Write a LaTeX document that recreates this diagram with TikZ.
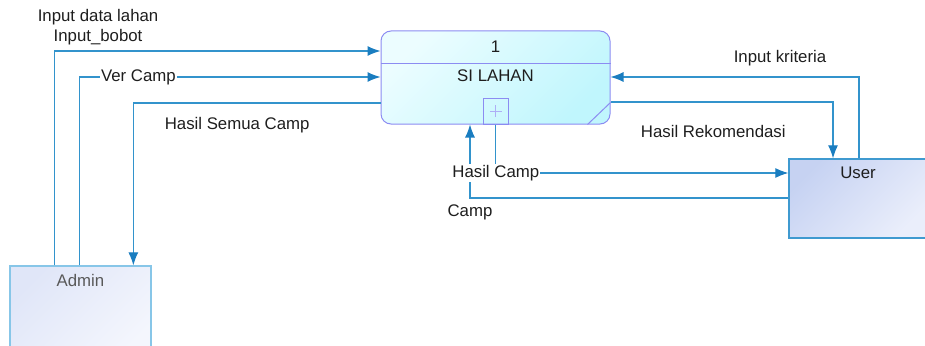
\documentclass[tikz,border=0pt]{standalone}
\usepackage{fontspec}
\setmainfont{Liberation Sans}
\usetikzlibrary{arrows.meta,positioning}

\definecolor{flowblue}{HTML}{3293CC}
\definecolor{tipblue}{HTML}{1A7DC0}
\definecolor{procline}{HTML}{8C8CF2}
\definecolor{procA}{HTML}{ECFDFF}
\definecolor{procB}{HTML}{C0F6FD}
\definecolor{adminline}{HTML}{87C6E8}
\definecolor{adminA}{HTML}{E0E6F8}
\definecolor{adminB}{HTML}{F4F6FD}
\definecolor{userline}{HTML}{3F9AD0}
\definecolor{userA}{HTML}{C6D2F2}
\definecolor{userB}{HTML}{EAEEFB}
\definecolor{txt}{HTML}{1E1E1E}

\tikzset{
  lbl/.style={font=\fontsize{16.8}{19}\selectfont, text=txt, inner sep=1pt},
  flow/.style={draw=flowblue, line width=1.1pt,
    -{Latex[length=13pt,width=10pt,color=tipblue]}},
  entity/.style={rectangle, line width=1.3pt, inner sep=0pt},
}

\begin{document}
\begin{tikzpicture}[x=1pt,y=-1pt]
\useasboundingbox (0,0) rectangle (925,345);
\clip (0,0) rectangle (925,345);

% process
\node[rectangle, rounded corners=10pt, draw=procline, line width=1pt,
      shading=axis, top color=procA, bottom color=procB, shading angle=45,
      minimum width=229pt, minimum height=93pt] (proc) at (495.5,77.5) {};
\draw[procline, line width=1pt] ([yshift=14.5pt]proc.west) -- ([yshift=14.5pt]proc.east);
\draw[procline, line width=1pt] ([xshift=-23pt]proc.south east) -- ([yshift=22pt]proc.south east);
\node[lbl] (procid) at (495.5,47) {1};
\node[lbl] (procname) at (495.5,76) {SI LAHAN};
\node[rectangle, draw=procline, line width=1pt, minimum width=25pt,
      minimum height=26pt, inner sep=0pt] (plus) at (495.8,111) {};
\draw[procline!70, line width=0.8pt] ([xshift=-6pt]plus.center) -- ([xshift=6pt]plus.center)
      ([yshift=-6pt]plus.center) -- ([yshift=6pt]plus.center);

% external entities
\node[entity, draw=adminline, shading=axis, top color=adminA, bottom color=adminB,
      shading angle=45, minimum width=141pt, minimum height=94pt,
      label={[anchor=north, yshift=-8pt, lbl, text=black!65]north:Admin}] (admin) at (80.5,313) {};
\node[entity, draw=userline, shading=axis, top color=userA, bottom color=userB,
      shading angle=45, minimum width=138pt, minimum height=79pt,
      label={[anchor=north, yshift=-7pt, lbl]north:User}] (user) at (858,198.5) {};

% flows between Admin and the process
\draw[flow] ([xshift=45pt]admin.north west) |- ([yshift=26.5pt]proc.west)
  node[lbl, pos=0.567, yshift=34pt] {Input data lahan}
  node[lbl, pos=0.567, yshift=14pt] {Input\_bobot};
\draw[flow] ([xshift=70pt]admin.north west) |- ([yshift=0.5pt]proc.west)
  node[lbl, pos=0.598, fill=white] {Ver Camp};
\draw[flow] ([yshift=-25.5pt]proc.west) -| ([xshift=124pt]admin.north west)
  node[lbl, pos=0.29, yshift=-22pt] {Hasil Semua Camp};

% flows between User and the process
\draw[flow] ([xshift=1pt]user.north) |- ([yshift=0.5pt]proc.east)
  node[lbl, pos=0.659, yshift=19pt] {Input kriteria};
\draw[flow] ([yshift=-24.5pt]proc.east) -| ([xshift=-25pt]user.north)
  node[lbl, pos=0.231, yshift=-29pt] {Hasil Rekomendasi};
\draw[flow] ([yshift=0.5pt]user.west) -| ([xshift=-25.5pt]proc.south)
  node[lbl, pos=0.5, yshift=-14pt] {Camp};
\draw[flow] (plus.south) |- ([yshift=25.5pt]user.west)
  node[lbl, pos=0.5, fill=white] {Hasil Camp};
\end{tikzpicture}
\end{document}
